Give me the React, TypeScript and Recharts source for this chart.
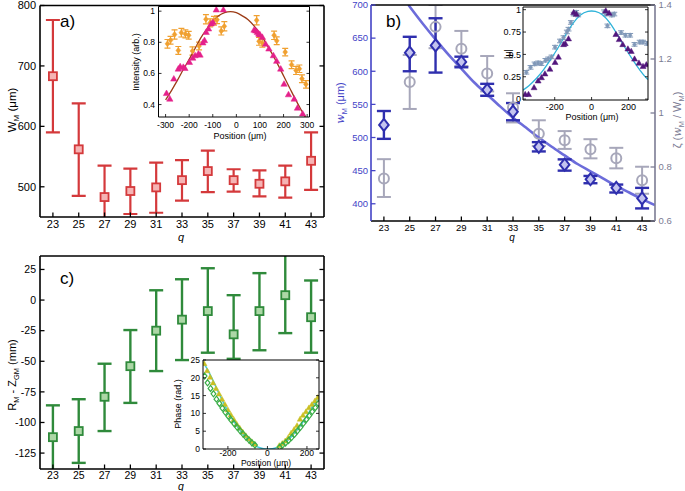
import React from 'react';
import { ComposedChart, Scatter, Line, XAxis, YAxis, ErrorBar } from 'recharts';

const FONT = '"Liberation Sans", Arial, Helvetica, sans-serif';

// ---------- shared categories ----------
const qValues = [23, 25, 27, 29, 31, 33, 35, 37, 39, 41, 43];
const qTicks = [23, 25, 27, 29, 31, 33, 35, 37, 39, 41, 43];

// ---------- panel a ----------
const aWm = [683, 562, 483, 493, 499, 511, 526, 511, 505, 509, 543];
const aLo = [590, 485, 430, 455, 457, 477, 491, 492, 484, 482, 495];
const aHi = [776, 638, 535, 530, 540, 544, 560, 529, 527, 535, 590];
const aYTicks = [500, 600, 700, 800];

// inset a
const iaTriPos = [-296, -282, -265, -246, -238, -225, -218, -199, -185, -175, -161, -154, -142, -135, -128, -118, -107, -99, -85, -55, 75, 82, 89, 95, 100, 110, 124, 138, 157, 171, 188, 202, 221, 245, 259, 281];
const iaTriInt = [0.473, 0.437, 0.566, 0.63, 0.645, 0.641, 0.634, 0.673, 0.7, 0.716, 0.727, 0.72, 0.798, 0.813, 0.866, 0.888, 0.92, 0.929, 1.01, 1.01, 0.88, 0.875, 0.866, 0.855, 0.85, 0.834, 0.79, 0.759, 0.716, 0.68, 0.63, 0.533, 0.465, 0.437, 0.379, 0.342];
const iaDiaPos = [-292, -279, -262, -246, -233, -216, -202, -186, -158, -129, -111, -95, -82, -64, -51, 86, 96, 110, 160, 171, 207, 234, 253, 267, 278, 295];
const iaDiaInt = [0.79, 0.813, 0.85, 0.748, 0.862, 0.854, 0.845, 0.744, 0.776, 0.948, 0.925, 0.938, 0.945, 0.873, 0.903, 0.942, 0.806, 0.795, 0.845, 0.81, 0.737, 0.656, 0.619, 0.63, 0.566, 0.53];
const iaDiaErr = [0.028, 0.025, 0.03, 0.025, 0.028, 0.026, 0.025, 0.027, 0.025, 0.03, 0.026, 0.028, 0.025, 0.026, 0.03, 0.03, 0.025, 0.026, 0.027, 0.025, 0.024, 0.025, 0.026, 0.024, 0.025, 0.024];
const iaFitPos = [-300, -275, -250, -225, -200, -175, -150, -125, -100, -75, -50, -25, 0, 25, 50, 75, 100, 125, 150, 175, 200, 225, 250, 275, 300];
const iaFitInt = [0.43, 0.49, 0.555, 0.625, 0.69, 0.76, 0.83, 0.885, 0.935, 0.97, 0.99, 0.997, 0.99, 0.97, 0.945, 0.905, 0.855, 0.795, 0.73, 0.66, 0.585, 0.51, 0.435, 0.365, 0.3];
const iaXTicks = [-300, -200, -100, 0, 100, 200, 300];
const iaYTicks = [0.4, 0.6, 0.8, 1];

// ---------- panel b ----------
const bWm = [519, 628, 639, 614, 572, 539, 486, 459, 437, 424, 408];
const bWmLo = [498, 600, 598, 606, 563, 526, 479, 450, 431, 417, 393];
const bWmHi = [540, 652, 680, 622, 581, 552, 493, 467, 442, 429, 424];
const bZeta = [0.757, 1.115, 1.319, 1.238, 1.146, 1.02, 0.923, 0.899, 0.866, 0.832, 0.751];
const bZetaLo = [0.689, 1.015, 1.24, 1.174, 1.08, 0.965, 0.878, 0.867, 0.832, 0.795, 0.701];
const bZetaHi = [0.829, 1.215, 1.4, 1.304, 1.211, 1.073, 0.973, 0.933, 0.903, 0.871, 0.801];
const bFitQ = [24.9, 26, 27, 28, 29, 30, 31, 32, 33, 34, 35, 36, 37, 38, 39, 40, 41, 42, 43, 44];
const bFitW = [700, 672, 648, 625, 604, 583, 565, 547, 530, 515, 500, 486, 473, 460, 449, 438, 427, 417, 407, 398];
const bYTicks = [400, 450, 500, 550, 600, 650, 700];
const bZTicks = [0.6, 0.8, 1, 1.2, 1.4];

// inset b
const ibTriPos = [-360, -342, -312, -290, -272, -253, -226, -198, -180, -152, -143, -125, -97, -83, 77, 95, 132, 150, 169, 197, 215, 233, 257, 279, 297];
const ibTriMu = [0.054, 0.054, 0.13, 0.205, 0.242, 0.284, 0.337, 0.412, 0.472, 0.612, 0.623, 0.676, 0.97, 0.951, 0.989, 0.963, 0.725, 0.668, 0.612, 0.563, 0.536, 0.45, 0.405, 0.367, 0.386];
const ibDiaPos = [-354, -331, -309, -290, -272, -250, -235, -217, -198, -171, -152, -134, -125, -112, -97, -84, -73, 68, 77, 86, 110, 123, 160, 184, 209, 233, 261, 279, 301];
const ibDiaMu = [0.3, 0.355, 0.394, 0.405, 0.397, 0.434, 0.45, 0.472, 0.581, 0.65, 0.688, 0.751, 0.782, 0.857, 0.951, 0.97, 0.94, 0.977, 0.951, 0.819, 0.94, 0.951, 0.744, 0.714, 0.714, 0.612, 0.638, 0.638, 0.623];
const ibFitPos = [-372, -340, -300, -260, -220, -180, -140, -100, -60, -20, 0, 20, 60, 100, 140, 180, 220, 260, 300, 306];
const ibFitMu = [0.1, 0.15, 0.23, 0.33, 0.45, 0.58, 0.72, 0.85, 0.94, 0.98, 0.985, 0.98, 0.94, 0.85, 0.72, 0.58, 0.45, 0.33, 0.23, 0.22];
const ibXTicks = [-200, 0, 200];
const ibYTicks = [0, 0.25, 0.5, 0.75, 1];

// ---------- panel c ----------
const cR = [-112, -107, -79, -54, -25, -16, -9, -28, -9, 4, -14];
const cLo = [-145, -133, -107, -84, -58, -49, -43, -48, -41, -27, -43];
const cHi = [-86, -81, -52, -24.5, 8, 17, 26, 4, 22, 38, 16];
const cYTicks = [-125, -100, -75, -50, -25, 0, 25];

// inset c
const icTriPos = [-320, -305, -290, -275, -260, -245, -230, -215, -200, -185, -170, -155, -140, -125, -110, -95, -80, -65, 60, 75, 90, 105, 120, 135, 150, 165, 180, 195, 210, 225, 240, 255];
const icTriPh = [24, 22, 20.2, 18.6, 17, 15.5, 14, 12.5, 11, 9.6, 8.3, 7, 5.9, 4.8, 3.8, 2.9, 2.1, 1.4, 1, 1.6, 2.3, 3.2, 4.5, 5.5, 6.6, 8.4, 9.5, 10.5, 11.6, 12.5, 13.5, 14.5];
const icDiaPos = [-318, -303, -288, -273, -258, -243, -228, -213, -198, -183, -168, -153, -138, -123, -108, -93, -78, -63, 62, 77, 92, 107, 122, 137, 152, 167, 182, 197, 212, 227, 242, 257];
const icDiaPh = [20.5, 18.6, 17, 15.5, 14, 12.8, 11.5, 10.3, 9.2, 8.1, 7.1, 6.1, 5.1, 4.2, 3.3, 2.5, 1.7, 1.1, 0.5, 1.1, 1.7, 2.4, 3.2, 4.1, 5.1, 6.1, 7.2, 8.3, 9.4, 10.5, 11.6, 12.8];
const icFitPos = [-326, -300, -250, -200, -150, -100, -50, -25, 0, 25, 50, 100, 150, 200, 250, 261];
const icFitPh = [24.5, 22, 16.2, 10.6, 6.1, 2.7, 0.6, 0.15, 0, 0.1, 0.5, 2.3, 5.3, 9.3, 14, 14.9];
const icXTicks = [-200, 0, 200];
const icYTicks = [0, 5, 10, 15, 20, 25];

// ---------- build tables ----------
const withErr = (xs: number[], ys: number[], lo: number[], hi: number[]) =>
  xs.map((x, i) => ({ x, y: ys[i], err: [ys[i] - lo[i], hi[i] - ys[i]] }));
const pts = (xs: number[], ys: number[]) => xs.map((x, i) => ({ x, y: ys[i] }));
const symErr = (xs: number[], ys: number[], e: number[]) => xs.map((x, i) => ({ x, y: ys[i], err: e[i] }));

const aData = withErr(qValues, aWm, aLo, aHi);
const bWData = withErr(qValues, bWm, bWmLo, bWmHi);
const bZData = withErr(qValues, bZeta, bZetaLo, bZetaHi);
const bFit = pts(bFitQ, bFitW);
const cData = withErr(qValues, cR, cLo, cHi);
const iaTri = pts(iaTriPos, iaTriInt);
const iaDia = symErr(iaDiaPos, iaDiaInt, iaDiaErr);
const iaFit = pts(iaFitPos, iaFitInt);
const ibTri = pts(ibTriPos, ibTriMu);
const ibDia = ibDiaPos.map((x, i) => ({ x, y: ibDiaMu[i], err: 0.02 }));
const ibFit = pts(ibFitPos, ibFitMu);
const icTri = pts(icTriPos, icTriPh);
const icDia = pts(icDiaPos, icDiaPh);
const icFit = pts(icFitPos, icFitPh);

// ---------- tick renderer ----------
type Side = 'left' | 'right' | 'top' | 'bottom';
function mkTick(o: { side: Side; len: number; labels: boolean; fs?: number; color?: string; textColor?: string; gap?: number; fmt?: (v: number) => string; sw?: number }) {
  return (props: any) => {
    const x = Number(props.x);
    const y = Number(props.y);
    const v = props.payload ? props.payload.value : 0;
    const col = o.color || '#000';
    const sw = o.sw || 1;
    const gap = o.gap ?? 4;
    const L = o.len;
    const label = o.fmt ? o.fmt(v) : String(v);
    const tp = { fontSize: o.fs || 10, fill: o.textColor || '#000', fontFamily: FONT };
    if (o.side === 'left')
      return (
        <g>
          <line x1={x} y1={y} x2={x + L} y2={y} stroke={col} strokeWidth={sw} />
          {o.labels && <text x={x - gap} y={y} dy="0.35em" textAnchor="end" {...tp}>{label}</text>}
        </g>
      );
    if (o.side === 'right')
      return (
        <g>
          <line x1={x} y1={y} x2={x - L} y2={y} stroke={col} strokeWidth={sw} />
          {o.labels && <text x={x + gap} y={y} dy="0.35em" textAnchor="start" {...tp}>{label}</text>}
        </g>
      );
    if (o.side === 'top')
      return (
        <g>
          <line x1={x} y1={y} x2={x} y2={y + L} stroke={col} strokeWidth={sw} />
        </g>
      );
    return (
      <g>
        <line x1={x} y1={y} x2={x} y2={y - L} stroke={col} strokeWidth={sw} />
        {o.labels && <text x={x} y={y + gap} dy="0.75em" textAnchor="middle" {...tp}>{label}</text>}
      </g>
    );
  };
}

type AxOpts = {
  xd: [number, number]; yd: [number, number]; xt: number[]; yt: number[];
  fs: number; len: number; sw: number; xGap: number; yGap: number;
  yFmt?: (v: number) => string; leftColor?: string;
  right?: { yd: [number, number]; yt: number[]; color: string; fmt?: (v: number) => string; gap: number };
};

// axes are 1px thick (Recharts skips zero-size axes); margins compensate
function fourAxes(o: AxOpts, show: boolean) {
  const lc = o.leftColor || '#000';
  const rc = o.right ? o.right.color : '#000';
  const common = { type: 'number' as const, allowDataOverflow: true, interval: 0 as const, tickSize: 0, tickMargin: 0, tickLine: false };
  const line = (c: string) => (show ? { stroke: c, strokeWidth: o.sw } : false);
  return [
    <XAxis key="xb" xAxisId="b" dataKey="x" orientation="bottom" height={1} domain={o.xd} ticks={o.xt} {...common}
      axisLine={line('#000')}
      tick={show ? mkTick({ side: 'bottom', len: o.len, labels: true, fs: o.fs, gap: o.xGap, sw: o.sw * 0.8 }) : false} />,
    <XAxis key="xt" xAxisId="t" orientation="top" height={1} domain={o.xd} ticks={o.xt} {...common}
      axisLine={line('#000')}
      tick={show ? mkTick({ side: 'top', len: o.len, labels: false, sw: o.sw * 0.8 }) : false} />,
    <YAxis key="yl" yAxisId="l" dataKey="y" orientation="left" width={1} domain={o.yd} ticks={o.yt} {...common}
      axisLine={line(lc)}
      tick={show ? mkTick({ side: 'left', len: o.len, labels: true, fs: o.fs, gap: o.yGap, color: lc, textColor: lc, fmt: o.yFmt, sw: o.sw * 0.8 }) : false} />,
    <YAxis key="yr" yAxisId="r" dataKey="y" orientation="right" width={1}
      domain={o.right ? o.right.yd : o.yd} ticks={o.right ? o.right.yt : o.yt} {...common}
      axisLine={line(rc)}
      tick={show ? mkTick({ side: 'right', len: o.len, labels: !!o.right, fs: o.fs, gap: o.right ? o.right.gap : 4, color: rc, textColor: rc, fmt: o.right ? o.right.fmt : undefined, sw: o.sw * 0.8 }) : false} />,
  ];
}

const W = 685;
const H = 491;
type Box = { x0: number; x1: number; y0: number; y1: number };
const marginOf = (b: Box) => ({ left: b.x0 - 1, right: W - b.x1 - 1, top: b.y0 - 1, bottom: H - b.y1 - 1 });

const boxA: Box = { x0: 40, x1: 324, y0: 5.5, y1: 217 };
const boxB: Box = { x0: 371, x1: 655, y0: 5, y1: 221 };
const boxC: Box = { x0: 40, x1: 324, y0: 256, y1: 469 };
const boxIA: Box = { x0: 158.5, x1: 309.5, y0: 6.5, y1: 117 };
const boxIB: Box = { x0: 523, x1: 648, y0: 7, y1: 100 };
const boxIC: Box = { x0: 203, x1: 319, y0: 360, y1: 449 };

const layer: React.CSSProperties = { position: 'absolute', left: 0, top: 0, width: W, height: H };

function Plot({ box, ax, bg, children }: { box: Box; ax: AxOpts; bg?: boolean; children: React.ReactNode }) {
  const clip = `inset(${box.y0}px ${W - box.x1}px ${H - box.y1}px ${box.x0}px)`;
  return (
    <>
      {bg && (
        <div style={{ position: 'absolute', left: box.x0, top: box.y0, width: box.x1 - box.x0, height: box.y1 - box.y0, background: '#fff' }} />
      )}
      <div style={{ ...layer, clipPath: clip }}>
        <ComposedChart width={W} height={H} margin={marginOf(box)}>
          {fourAxes(ax, false)}
          {children}
        </ComposedChart>
      </div>
      <div style={layer}>
        <ComposedChart width={W} height={H} margin={marginOf(box)}>
          {fourAxes(ax, true)}
        </ComposedChart>
      </div>
    </>
  );
}

// shapes
const squareShape = (stroke: string, fill: string) => (p: any) => (
  <rect x={p.cx - 4} y={p.cy - 4} width={8} height={8} fill={fill} stroke={stroke} strokeWidth={1.8} />
);
const diamondShape = (stroke: string, fill: string, r: number, sw: number) => (p: any) => (
  <path d={`M${p.cx},${p.cy - r} L${p.cx + r * 0.8},${p.cy} L${p.cx},${p.cy + r} L${p.cx - r * 0.8},${p.cy} Z`} fill={fill} stroke={stroke} strokeWidth={sw} />
);
const circleShape = (stroke: string) => (p: any) => (
  <circle cx={p.cx} cy={p.cy} r={5} fill="none" stroke={stroke} strokeWidth={2} />
);
const triShape = (fill: string, s: number) => (p: any) => (
  <path d={`M${p.cx},${p.cy - s} L${p.cx + s},${p.cy + s * 0.75} L${p.cx - s},${p.cy + s * 0.75} Z`} fill={fill} stroke={fill} strokeWidth={0.5} />
);

const RED = '#d4393b';
const BLUE = '#2f2fae';
const GREY = '#a7a7ba';
const GREEN = '#2f8a3b';

const axA: AxOpts = { xd: [22, 44], yd: [450, 800], xt: qTicks, yt: aYTicks, fs: 11, len: 4.5, sw: 1.6, xGap: 3, yGap: 4 };
const axIA: AxOpts = { xd: [-330, 310], yd: [0.32, 1.03], xt: iaXTicks, yt: iaYTicks, fs: 8.5, len: 3, sw: 1, xGap: 5, yGap: 3.5, yFmt: (v) => (v === 1 ? '1' : v.toFixed(1)) };
const axB: AxOpts = {
  xd: [22, 44], yd: [374, 700], xt: qTicks, yt: bYTicks, fs: 9.5, len: 4.5, sw: 1.6, xGap: 3, yGap: 3,
  leftColor: '#4343c6',
  right: { yd: [0.6, 1.4], yt: bZTicks, color: '#7b7b93', gap: 3.5 },
};
const axIB: AxOpts = { xd: [-372, 306], yd: [-0.01, 1.03], xt: ibXTicks, yt: ibYTicks, fs: 9, len: 3, sw: 1, xGap: 3, yGap: 2 };
const axC: AxOpts = { xd: [22, 44], yd: [-138, 36], xt: qTicks, yt: cYTicks, fs: 10.5, len: 4.5, sw: 1.6, xGap: 2, yGap: 4 };
const axIC: AxOpts = { xd: [-326, 261], yd: [0, 25], xt: icXTicks, yt: icYTicks, fs: 8.5, len: 3, sw: 1, xGap: 1, yGap: 3 };

function Labels() {
  const t = { fontFamily: FONT, fill: '#000' };
  return (
    <svg width={W} height={H} style={{ position: 'absolute', left: 0, top: 0, pointerEvents: 'none' }}>
      <text x={60} y={27} fontSize={17} {...t}>a)</text>
      <text x={386} y={27} fontSize={17} {...t}>b)</text>
      <text x={60} y={284} fontSize={17} {...t}>c)</text>
      <text x={181} y={240.5} fontSize={11} fontStyle="italic" textAnchor="middle" {...t}>q</text>
      <text x={512} y={241} fontSize={10} fontStyle="italic" textAnchor="middle" {...t}>q</text>
      <text x={181} y={489.5} fontSize={10.5} fontStyle="italic" textAnchor="middle" {...t}>q</text>
      <text transform="translate(15.5,110) rotate(-90)" fontSize={11.5} textAnchor="middle" {...t}>
        W<tspan fontSize={8} dy={3}>M</tspan><tspan dy={-3}> (μm)</tspan>
      </text>
      <text transform="translate(15.5,375) rotate(-90)" fontSize={11} textAnchor="middle" {...t}>
        R<tspan fontSize={7.5} dy={3}>M</tspan><tspan dy={-3}> - Z</tspan><tspan fontSize={7.5} dy={3}>GM</tspan><tspan dy={-3}> (mm)</tspan>
      </text>
      <text transform="translate(344,103) rotate(-90)" fontSize={11} textAnchor="middle" fontFamily={FONT} fill="#4343c6">
        <tspan fontStyle="italic" fontFamily="DejaVu Serif">w</tspan><tspan fontSize={7.5} dy={3}>M</tspan><tspan dy={-3}> (μm)</tspan>
      </text>
      <text transform="translate(681,120) rotate(-90)" fontSize={11} textAnchor="middle" fontFamily={FONT} fill="#7b7b93">
        ζ (<tspan fontStyle="italic" fontFamily="DejaVu Serif">w</tspan><tspan fontSize={7.5} dy={3}>M</tspan><tspan dy={-3}> / W</tspan><tspan fontSize={7.5} dy={3}>M</tspan><tspan dy={-3}>)</tspan>
      </text>
      <text transform="translate(139,62) rotate(-90)" fontSize={9} textAnchor="middle" {...t}>Intensity (arb.)</text>
      <text x={240} y={139} fontSize={9} textAnchor="middle" {...t}>Position (μm)</text>
      <text transform="translate(511,54) rotate(-90)" fontSize={9} textAnchor="middle" {...t}>|μ|</text>
      <text x={592} y={120} fontSize={9} textAnchor="middle" {...t}>Position (μm)</text>
      <text transform="translate(181,404) rotate(-90)" fontSize={9} textAnchor="middle" {...t}>Phase (rad.)</text>
      <text x={266} y={465.5} fontSize={8.5} textAnchor="middle" {...t}>Position (μm)</text>
    </svg>
  );
}

export default function App() {
  return (
    <div style={{ position: 'absolute', left: 0, top: 0, width: W, height: H, background: '#fff', overflow: 'hidden' }}>
      <Plot box={boxA} ax={axA}>
        <Scatter data={aData} xAxisId="b" yAxisId="l" isAnimationActive={false} shape={squareShape(RED, '#f5b4b4')}>
          <ErrorBar dataKey="err" direction="y" width={7} stroke={RED} strokeWidth={2.2} />
        </Scatter>
      </Plot>
      <Plot box={boxB} ax={axB}>
        <Scatter data={bZData} xAxisId="b" yAxisId="r" isAnimationActive={false} shape={circleShape(GREY)}>
          <ErrorBar dataKey="err" direction="y" width={7} stroke={GREY} strokeWidth={2} />
        </Scatter>
        <Line data={bFit} dataKey="y" xAxisId="b" yAxisId="l" type="monotone" dot={false} stroke="#6c6cda" strokeWidth={2.6} isAnimationActive={false} />
        <Scatter data={bWData} xAxisId="b" yAxisId="l" isAnimationActive={false} shape={diamondShape(BLUE, '#c4c4ef', 6, 2)}>
          <ErrorBar dataKey="err" direction="y" width={7} stroke={BLUE} strokeWidth={2.4} />
        </Scatter>
      </Plot>
      <Plot box={boxC} ax={axC}>
        <Scatter data={cData} xAxisId="b" yAxisId="l" isAnimationActive={false} shape={squareShape(GREEN, '#acd7a6')}>
          <ErrorBar dataKey="err" direction="y" width={7} stroke={GREEN} strokeWidth={2.4} />
        </Scatter>
      </Plot>
      <Plot box={boxIA} ax={axIA} bg>
        <Scatter data={iaDia} xAxisId="b" yAxisId="l" isAnimationActive={false} shape={diamondShape('#f0a030', '#f0a030', 3, 0.5)}>
          <ErrorBar dataKey="err" direction="y" width={3} stroke="#f0a030" strokeWidth={1.2} />
        </Scatter>
        <Scatter data={iaTri} xAxisId="b" yAxisId="l" isAnimationActive={false} shape={triShape('#e4208a', 3.2)} />
        <Line data={iaFit} dataKey="y" xAxisId="b" yAxisId="l" type="monotone" dot={false} stroke="#9c3b16" strokeWidth={1.3} isAnimationActive={false} />
      </Plot>
      <Plot box={boxIB} ax={axIB} bg>
        <Scatter data={ibDia} xAxisId="b" yAxisId="l" isAnimationActive={false} shape={diamondShape('#8098b8', '#8098b8', 2.5, 0.5)}>
          <ErrorBar dataKey="err" direction="y" width={3} stroke="#8098b8" strokeWidth={1} />
        </Scatter>
        <Scatter data={ibTri} xAxisId="b" yAxisId="l" isAnimationActive={false} shape={triShape('#52167c', 3)} />
        <Line data={ibFit} dataKey="y" xAxisId="b" yAxisId="l" type="monotone" dot={false} stroke="#2fb3d9" strokeWidth={1.3} isAnimationActive={false} />
      </Plot>
      <Plot box={boxIC} ax={axIC} bg>
        <Line data={icFit} dataKey="y" xAxisId="b" yAxisId="l" type="monotone" dot={false} stroke="#3cc9e2" strokeWidth={1.5} isAnimationActive={false} />
        <Scatter data={icTri} xAxisId="b" yAxisId="l" isAnimationActive={false} shape={triShape('#c9bf22', 2.8)} />
        <Scatter data={icDia} xAxisId="b" yAxisId="l" isAnimationActive={false} shape={diamondShape('#3aae48', 'none', 3, 1.2)} />
      </Plot>
      <Labels />
    </div>
  );
}
